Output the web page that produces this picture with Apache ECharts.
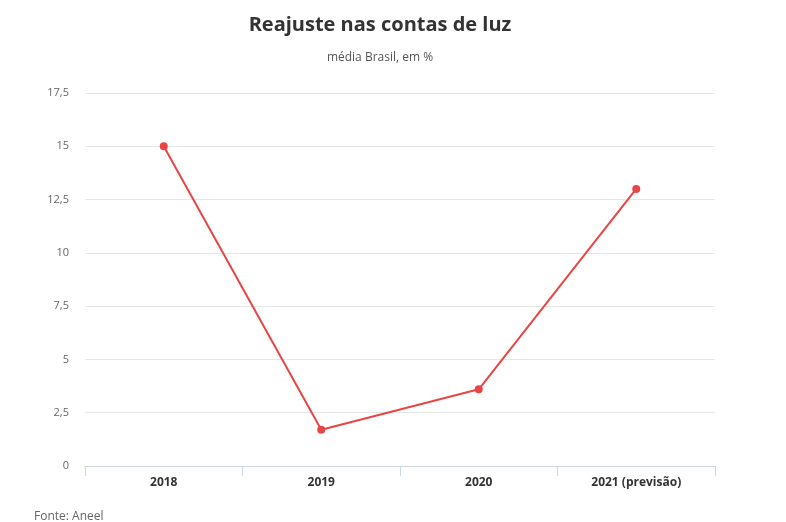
<!DOCTYPE html>
<html>
<head>
<meta charset="utf-8">
<script src="https://cdn.jsdelivr.net/npm/echarts@6/dist/echarts.min.js"></script>
<style>
  html, body { margin: 0; padding: 0; background: #fff; }
  #chart { width: 786px; height: 522px; }
</style>
</head>
<body>
<div id="chart"></div>
<script>
// Average electricity bill adjustment in Brazil, %
const categories = ['2018', '2019', '2020', '2021 (previsão)'];
const reajuste = [15, 1.7, 3.6, 13];
const yTicks = [0, 2.5, 5, 7.5, 10, 12.5, 15, 17.5];

const chart = echarts.init(document.getElementById('chart'), null, { renderer: 'canvas' });
const fmt = v => String(v).replace('.', ',');

chart.setOption({
  animation: false,
  backgroundColor: '#ffffff',
  title: {
    text: 'Reajuste nas contas de luz',
    subtext: 'média Brasil, em %',
    left: 375,
    textAlign: 'center',
    top: 10,
    itemGap: 17,
    textStyle: { fontFamily: 'Open Sans', fontSize: 20, fontWeight: 'bold', color: '#333333' },
    subtextStyle: { fontFamily: 'Open Sans', fontSize: 12, color: '#555555' }
  },
  graphic: [{
    type: 'text',
    left: 34,
    top: 511,
    style: { text: 'Fonte: Aneel', font: '12px "Open Sans"', fill: '#666666' }
  }],
  grid: { left: 85, right: 71, top: 93, bottom: 56 },
  xAxis: {
    type: 'category',
    data: categories,
    boundaryGap: true,
    axisLine: { lineStyle: { color: '#ccd6eb' } },
    axisTick: { show: true, length: 10, lineStyle: { color: '#ccd6eb' } },
    axisLabel: { fontFamily: 'Open Sans', fontSize: 12, fontWeight: 'bold', color: '#333333', margin: 11 }
  },
  yAxis: {
    type: 'value',
    min: yTicks[0],
    max: yTicks[yTicks.length - 1],
    interval: 2.5,
    axisLine: { show: false },
    axisTick: { show: false },
    splitLine: { lineStyle: { color: '#e6e6e6' } },
    axisLabel: { fontFamily: 'Open Sans', fontSize: 11, color: '#666666', margin: 16, formatter: fmt }
  },
  series: [{
    type: 'line',
    data: reajuste,
    symbol: 'circle',
    symbolSize: 8,
    lineStyle: { color: '#e84545', width: 2 },
    itemStyle: { color: '#e84545' }
  }]
});
</script>
</body>
</html>
